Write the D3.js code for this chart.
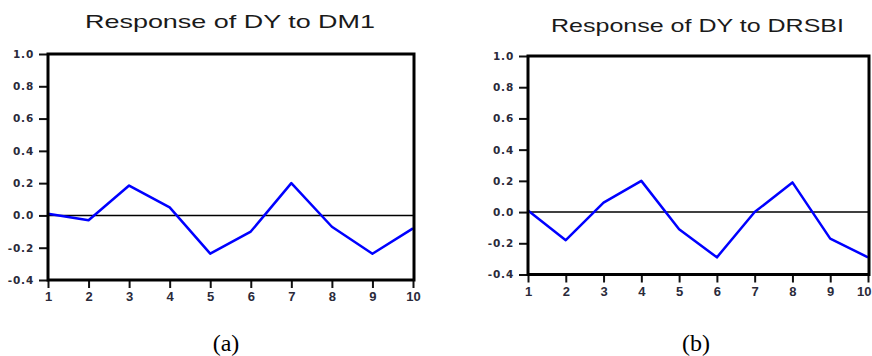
<!DOCTYPE html>
<html>
<head>
<meta charset="utf-8">
<script src="https://cdn.jsdelivr.net/npm/d3@7"></script>
<style>
  body { margin: 0; background: #fff; }
  svg { display: block; }
</style>
</head>
<body>
<div id="drawArea"></div>
<script>
var periods = [1, 2, 3, 4, 5, 6, 7, 8, 9, 10];
var dm1Response = [0.01, -0.03, 0.185, 0.05, -0.237, -0.10, 0.20, -0.07, -0.237, -0.08];
var drsbiResponse = [0.01, -0.18, 0.06, 0.20, -0.11, -0.29, 0.0, 0.19, -0.17, -0.29];
var yTicks = [-0.4, -0.2, 0.0, 0.2, 0.4, 0.6, 0.8, 1.0];
var titles = ["Response of DY to DM1", "Response of DY to DRSBI"];
var captions = ["(a)", "(b)"];

var width = 872, height = 356;
var lineColor = "#0000ff";
var textColor = "#2a2a3a";

var svg = d3.select("#drawArea").append("svg")
  .attr("width", width)
  .attr("height", height);

// panel boxes
var panels = [
  { values: dm1Response, title: titles[0], caption: captions[0],
    left: 48, right: 414, top: 54, bottom: 280,
    titleX: 85, titleLen: 290, titleY: 28, captionX: 226 },
  { values: drsbiResponse, title: titles[1], caption: captions[1],
    left: 528, right: 869, top: 56, bottom: 274.5,
    titleX: 551, titleLen: 293, titleY: 32, captionX: 696 }
];

panels.forEach(function(p) {
  var g = svg.append("g");

  var x = d3.scaleLinear().domain([1, 10]).range([p.left, p.right - 1]);
  var y = d3.scaleLinear().domain([-0.4, 1.0]).range([p.bottom, p.top]);

  // y axis ticks + labels
  var yAxis = d3.axisLeft(y)
    .tickValues(yTicks)
    .tickSize(9)
    .tickPadding(5)
    .tickFormat(d3.format(".1f"));
  var ya = g.append("g")
    .attr("transform", "translate(" + p.left + ",0)")
    .call(yAxis);
  ya.select(".domain").remove();
  ya.selectAll("line").attr("stroke", "#111").attr("stroke-width", 2);
  ya.selectAll("text")
    .attr("font-family", "DejaVu Sans, sans-serif")
    .attr("font-weight", "bold")
    .attr("font-size", 10.5)
    .attr("letter-spacing", 0.8)
    .attr("fill", textColor)
    .text(function(d) { return d3.format(".1f")(d).replace("−", "-"); });

  // x axis ticks + labels
  var xAxis = d3.axisBottom(x)
    .tickValues(periods)
    .tickSize(8)
    .tickPadding(4)
    .tickFormat(d3.format("d"));
  var xa = g.append("g")
    .attr("transform", "translate(0," + p.bottom + ")")
    .call(xAxis);
  xa.select(".domain").remove();
  xa.selectAll("line").attr("stroke", "#111").attr("stroke-width", 2);
  xa.selectAll("text")
    .attr("font-family", "Arial, Liberation Sans, sans-serif")
    .attr("font-weight", "bold")
    .attr("font-size", 13)
    .attr("fill", textColor);
  // keep the last label inside the page
  xa.selectAll("text")
    .filter(function(d) { return x(d) + 8 > width; })
    .attr("text-anchor", "end")
    .attr("dx", width - 1 - x(10));

  // zero line
  g.append("line")
    .attr("x1", p.left).attr("x2", p.right)
    .attr("y1", y(0)).attr("y2", y(0))
    .attr("stroke", "#000")
    .attr("stroke-width", 1.4);

  // response line
  var line = d3.line()
    .x(function(d, i) { return x(periods[i]); })
    .y(function(d) { return y(d); });
  g.append("path")
    .datum(p.values)
    .attr("d", line)
    .attr("fill", "none")
    .attr("stroke", lineColor)
    .attr("stroke-width", 2.5)
    .attr("stroke-linejoin", "round");

  // frame
  g.append("rect")
    .attr("x", p.left).attr("y", p.top)
    .attr("width", p.right - p.left)
    .attr("height", p.bottom - p.top)
    .attr("fill", "none")
    .attr("stroke", "#000")
    .attr("stroke-width", 3);

  // title
  g.append("text")
    .attr("x", p.titleX)
    .attr("y", p.titleY)
    .attr("textLength", p.titleLen)
    .attr("lengthAdjust", "spacingAndGlyphs")
    .attr("font-family", "Arial, Liberation Sans, sans-serif")
    .attr("font-size", 18.5)
    .attr("fill", "#1a1a1a")
    .text(p.title);

  // caption
  svg.append("text")
    .attr("x", p.captionX)
    .attr("y", 351)
    .attr("text-anchor", "middle")
    .attr("font-family", "Liberation Serif, Times New Roman, serif")
    .attr("font-size", 24)
    .attr("fill", "#000")
    .text(p.caption);
});
</script>
</body>
</html>
